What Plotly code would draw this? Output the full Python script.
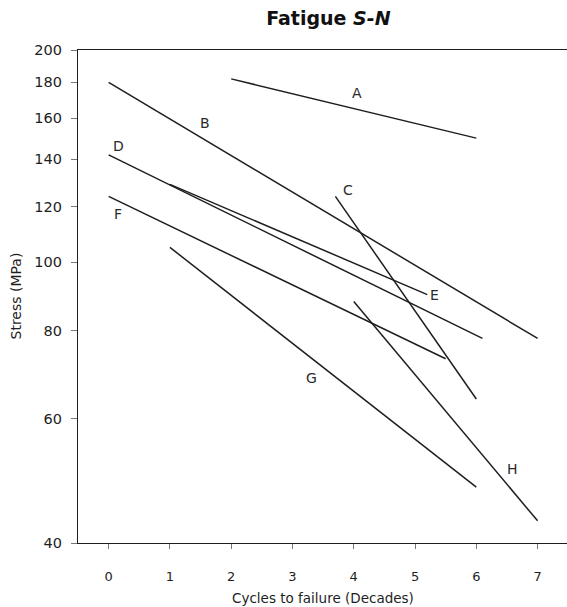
import numpy as np
import plotly.graph_objects as go

# Series endpoints: cycles to failure (decades) and stress (MPa)
series_names = ["A", "B", "C", "D", "E", "F", "G", "H"]
x_start = [2.0, 0.0, 3.7, 0.0, 1.0, 0.0, 1.0, 4.0]
x_end = [6.0, 7.0, 6.0, 6.1, 5.2, 5.5, 6.0, 7.0]
stress_start = [182, 180, 124, 142, 129, 124, 105, 88]
stress_end = [150, 78, 64, 78, 90, 73, 48, 43]

# Label positions
label_x = [4.05, 1.57, 3.9, 0.16, 5.32, 0.16, 3.31, 6.59]
label_y = [174, 157.5, 126.5, 146, 90, 117, 68.5, 51]

x_ticks = [0, 1, 2, 3, 4, 5, 6, 7]
y_ticks = [40, 60, 80, 100, 120, 140, 160, 180, 200]

FONT = "DejaVu Sans"
INK = "#1e1e1e"

fig = go.Figure()
for i, name in enumerate(series_names):
    fig.add_trace(go.Scatter(
        x=[x_start[i], x_end[i]],
        y=[stress_start[i], stress_end[i]],
        mode="lines",
        line=dict(color=INK, width=1.5),
        name=name,
        showlegend=False,
        hoverinfo="skip",
    ))

annotations = []
for i, name in enumerate(series_names):
    annotations.append(dict(
        x=label_x[i], y=np.log10(label_y[i]), xref="x", yref="y",
        text=name, showarrow=False,
        font=dict(family=FONT, size=14, color="#2a2a2a"),
        xanchor="center", yanchor="middle",
    ))

annotations.append(dict(
    x=0.5, y=0, xref="paper", yref="paper", yshift=-55,
    text="Cycles to failure (Decades)", showarrow=False,
    font=dict(family=FONT, size=13.5, color=INK),
    xanchor="center", yanchor="middle",
))
annotations.append(dict(
    x=0, y=0.5, xref="paper", yref="paper", xshift=-63,
    text="Stress (MPa)", showarrow=False, textangle=-90,
    font=dict(family=FONT, size=14, color=INK),
    xanchor="center", yanchor="middle",
))

fig.update_layout(
    width=567, height=607,
    margin=dict(l=78, r=0, t=50, b=64),
    paper_bgcolor="white", plot_bgcolor="white",
    title=dict(
        text="<b>Fatigue <i>S-N</i></b>",
        x=0.512, xref="paper", xanchor="center",
        y=1 - 18 / 607, yref="container", yanchor="middle",
        font=dict(family=FONT, size=19, color="#111111"),
    ),
    annotations=annotations,
    xaxis=dict(
        range=[-0.5, 7.48],
        tickvals=x_ticks,
        ticktext=[str(t) for t in x_ticks],
        showgrid=False, zeroline=False,
        showline=True, linecolor=INK, linewidth=1.4, mirror=True,
        ticks="outside", ticklen=5, tickcolor="#777777", tickwidth=1,
        ticklabelstandoff=16,
        tickfont=dict(family=FONT, size=13, color=INK),
    ),
    yaxis=dict(
        type="log",
        range=[np.log10(40), np.log10(200)],
        tickvals=y_ticks,
        ticktext=[str(t) for t in y_ticks],
        showgrid=False, zeroline=False,
        showline=True, linecolor=INK, linewidth=1.4,
        ticks="outside", ticklen=6, tickcolor="#777777", tickwidth=1,
        ticklabelstandoff=6,
        tickfont=dict(family=FONT, size=14.5, color=INK),
    ),
)

fig.write_html(
    "out.html",
    config={"displayModeBar": False},
    post_script="document.body.style.margin='0';document.body.style.padding='0';",
)
